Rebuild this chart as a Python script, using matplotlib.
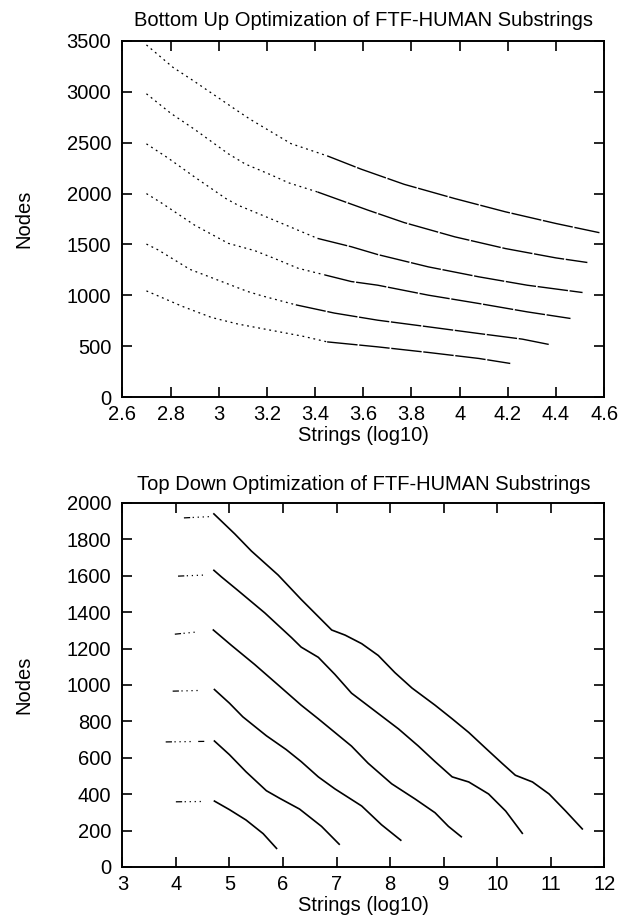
import numpy as np
import matplotlib
matplotlib.use('Agg')
import matplotlib.pyplot as plt

plt.rcParams['font.family'] = ['Liberation Sans', 'DejaVu Sans']
plt.rcParams['font.size'] = 14.5

# bottom up optimization (top panel)
bu_x1 = [2.70, 2.81, 2.90, 3.07, 3.13, 3.30, 3.45, 3.59, 3.77, 3.98, 4.19, 4.40, 4.58]
bu_y1 = [3460, 3240, 3100, 2825, 2730, 2490, 2370, 2240, 2090, 1950, 1820, 1705, 1615]
bu_x2 = [2.70, 2.80, 2.90, 3.04, 3.11, 3.22, 3.29, 3.41, 3.62, 3.77, 3.98, 4.19, 4.40, 4.53]
bu_y2 = [2980, 2790, 2630, 2390, 2290, 2180, 2105, 2015, 1836, 1714, 1574, 1459, 1367, 1322]
bu_x3 = [2.70, 2.79, 2.90, 3.03, 3.08, 3.23, 3.41, 3.55, 3.66, 3.87, 4.08, 4.28, 4.51]
bu_y3 = [2488, 2348, 2162, 1950, 1885, 1738, 1559, 1477, 1400, 1279, 1181, 1099, 1027]
bu_x4 = [2.70, 2.76, 2.90, 3.04, 3.15, 3.23, 3.33, 3.44, 3.55, 3.66, 3.87, 4.08, 4.28, 4.46]
bu_y4 = [1999, 1911, 1689, 1510, 1438, 1363, 1265, 1200, 1135, 1099, 1001, 919, 837, 772]
bu_x5 = [2.70, 2.75, 2.88, 3.12, 3.18, 3.32, 3.48, 3.66, 3.87, 4.08, 4.26, 4.37]
bu_y5 = [1503, 1444, 1255, 1037, 994, 906, 825, 755, 690, 624, 569, 517]
bu_x6 = [2.70, 2.85, 2.97, 3.08, 3.35, 3.45, 3.66, 3.87, 4.08, 4.21]
bu_y6 = [1043, 890, 782, 717, 597, 542, 493, 438, 379, 330]

# top down optimization (bottom panel): short flat start + main curve
td_seg_x = [[4.15, 4.63], [4.04, 4.54], [3.98, 4.42], [3.94, 4.47], [3.81, 4.53], [4.00, 4.59]]
td_seg_y = [[1918, 1925], [1598, 1604], [1279, 1292], [966, 970], [687, 690], [358, 360]]
td_x1 = [4.71, 5.10, 5.41, 5.91, 6.34, 6.91, 7.16, 7.47, 7.78, 8.09, 8.41, 8.84, 9.16,
         9.47, 9.78, 10.09, 10.34, 10.66, 10.97, 11.28, 11.59]
td_y1 = [1940, 1830, 1736, 1604, 1470, 1302, 1274, 1227, 1162, 1068, 983, 889, 814,
         739, 654, 570, 504, 467, 401, 307, 209]
td_x2 = [4.71, 4.85, 5.16, 5.66, 6.16, 6.34, 6.66, 6.97, 7.28, 7.66, 8.16, 8.53, 8.84,
         9.16, 9.47, 9.84, 10.16, 10.47]
td_y2 = [1630, 1594, 1519, 1396, 1260, 1208, 1152, 1058, 955, 870, 758, 664, 579,
         495, 467, 401, 307, 185]
td_x3 = [4.70, 5.04, 5.47, 5.91, 6.34, 6.66, 6.97, 7.28, 7.59, 8.03, 8.47, 8.84, 9.09, 9.33]
td_y3 = [1302, 1217, 1113, 1000, 889, 814, 739, 664, 570, 457, 373, 298, 223, 166]
td_x4 = [4.72, 5.00, 5.25, 5.69, 6.06, 6.34, 6.66, 6.97, 7.47, 7.84, 8.20]
td_y4 = [975, 900, 825, 721, 645, 579, 495, 429, 335, 232, 147]
td_x5 = [4.72, 5.00, 5.31, 5.69, 5.94, 6.31, 6.72, 7.05]
td_y5 = [692, 617, 523, 419, 377, 318, 223, 125]
td_x6 = [4.72, 5.00, 5.31, 5.63, 5.88]
td_y6 = [362, 315, 258, 183, 102]


def style_axes(ax):
    for s in ax.spines.values():
        s.set_linewidth(1.4)
    ax.tick_params(direction='in', length=7, width=1.2, top=True, right=True,
                   labelsize=14.5)
    ax.tick_params(axis='y', pad=8)
    ax.tick_params(axis='x', pad=6)


fig = plt.figure(figsize=(6.21, 9.18), dpi=100)

# top panel
ax1 = fig.add_axes([0.197, 0.5675, 0.776, 0.388])
bu = [(bu_x1, bu_y1), (bu_x2, bu_y2), (bu_x3, bu_y3),
      (bu_x4, bu_y4), (bu_x5, bu_y5), (bu_x6, bu_y6)]
for x, y in bu:
    x = np.array(x)
    y = np.array(y)
    m = x <= 3.45
    # faint left part, near solid right part (as in the scan)
    ax1.plot(x[m], y[m], color='black', lw=0.9, linestyle=(0, (1.5, 3)))
    k = np.argmax(~m) - 1
    ax1.plot(x[k:], y[k:], color='black', lw=1.0, linestyle=(0, (22, 1.2)))
ax1.set_xlim(2.6, 4.6)
ax1.set_ylim(0, 3500)
ax1.set_xticks(np.arange(2.6, 4.61, 0.2))
ax1.set_xticklabels(['2.6', '2.8', '3', '3.2', '3.4', '3.6', '3.8', '4', '4.2', '4.4', '4.6'])
ax1.set_yticks(range(0, 3501, 500))
ax1.set_title('Bottom Up Optimization of FTF-HUMAN Substrings', fontsize=14.5, pad=11)
ax1.set_xlabel('Strings (log10)', fontsize=14.5, labelpad=1)
ax1.set_ylabel('Nodes', fontsize=14.5, labelpad=24)
style_axes(ax1)

# bottom panel
ax2 = fig.add_axes([0.197, 0.0556, 0.776, 0.3965])
td = [(td_x1, td_y1), (td_x2, td_y2), (td_x3, td_y3),
      (td_x4, td_y4), (td_x5, td_y5), (td_x6, td_y6)]
for (sx, sy), (x, y) in zip(zip(td_seg_x, td_seg_y), td):
    ax2.plot(sx, sy, color='black', lw=0.9, linestyle=(0, (5, 2, 1, 3, 1, 3, 1, 3, 1, 6)))
    ax2.plot(x, y, color='black', lw=1.2)
ax2.set_xlim(3, 12)
ax2.set_ylim(0, 2000)
ax2.set_xticks(range(3, 13))
ax2.set_yticks(range(0, 2001, 200))
ax2.set_title('Top Down Optimization of FTF-HUMAN Substrings', fontsize=14.5, pad=9)
ax2.set_xlabel('Strings (log10)', fontsize=14.5, labelpad=1)
ax2.set_ylabel('Nodes', fontsize=14.5, labelpad=24)
style_axes(ax2)

fig.savefig('out.png', dpi=100)
